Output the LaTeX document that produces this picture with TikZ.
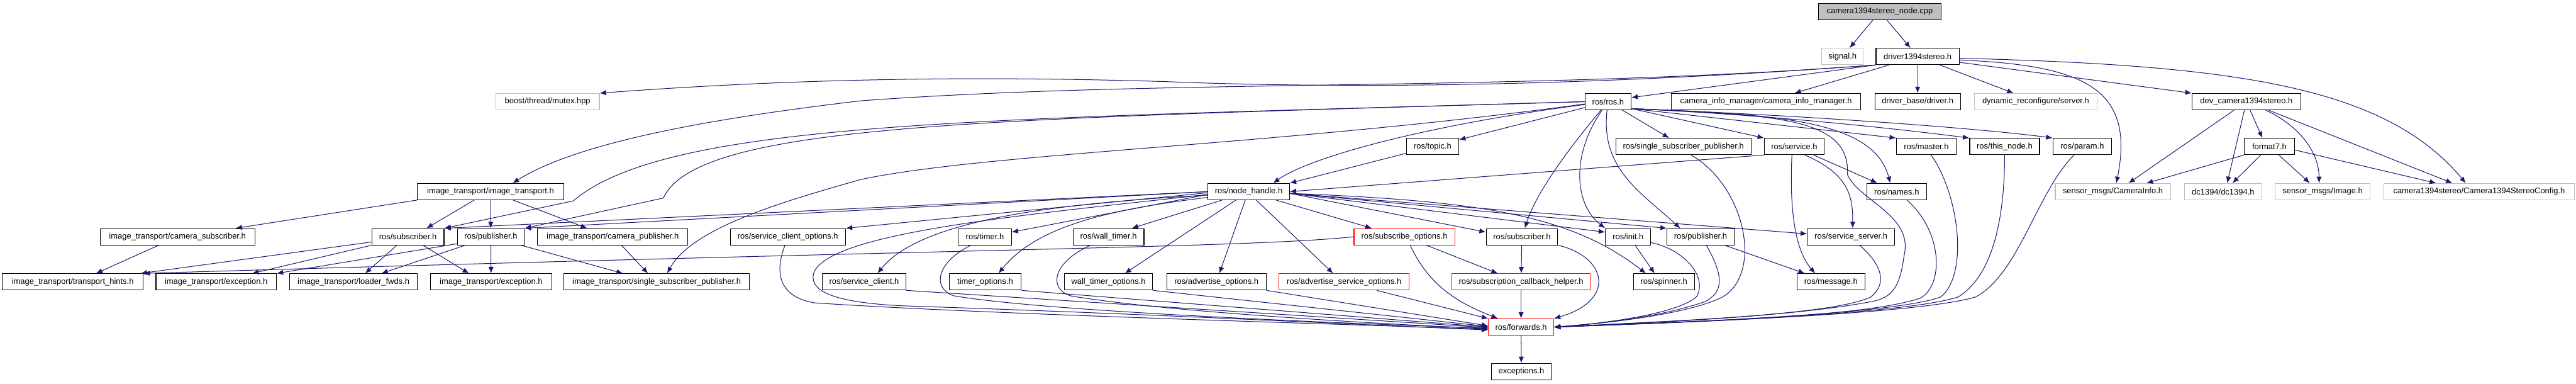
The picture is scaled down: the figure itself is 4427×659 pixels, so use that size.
\documentclass[tikz,border=0pt]{standalone}
\usepackage{fontspec}
\setmainfont{Liberation Sans}
\usepackage{tikz}
\usetikzlibrary{arrows.meta}
\usepackage{xcolor}
\definecolor{edgeblue}{RGB}{25,25,112}
\definecolor{grey75}{RGB}{191,191,191}

\tikzset{
  hdr/.style={draw=black, fill=white, line width=1.2pt, minimum height=28pt,
    inner sep=0pt, font=\fontsize{14}{16}\selectfont},
  ext/.style={hdr, draw=grey75},
  trunc/.style={hdr, draw=red},
  rootfile/.style={hdr, fill=grey75},
  dep/.style={draw=edgeblue, line width=1.1pt, -{Latex[length=11pt,width=9pt]}},
}

\begin{document}
\begin{tikzpicture}[x=1pt, y=-1pt]
    \fill[white] (0,0) rectangle (4427,659);

    % Top of the graph
    \node[rootfile, minimum width=211pt] (root) at (3230.5,20) {camera1394stereo\_node.cpp};
    \node[ext, minimum width=71pt] (signal) at (3166.5,97) {signal.h};
    \node[hdr, minimum width=143pt] (driver) at (3295.5,97) {driver1394stereo.h};

    % Headers of driver1394stereo.h
    \node[ext, minimum width=178pt] (boost) at (941,174.5) {boost/thread/mutex.hpp};
    \node[hdr, minimum width=79pt] (ros) at (2763.5,174.5) {ros/ros.h};
    \node[hdr, minimum width=326pt] (cim) at (3035,174.5) {camera\_info\_manager/camera\_info\_manager.h};
    \node[hdr, minimum width=147pt] (dbase) at (3295.5,174.5) {driver\_base/driver.h};
    \node[ext, minimum width=211pt] (dynrec) at (3498.5,174.5) {dynamic\_reconfigure/server.h};
    \node[hdr, minimum width=187pt] (devcam) at (3860.5,174.5) {dev\_camera1394stereo.h};

    \node[hdr, minimum width=90pt] (topic) at (2462,251.5) {ros/topic.h};
    \node[hdr, minimum width=232pt] (rssp) at (2893,251.5) {ros/single\_subscriber\_publisher.h};
    \node[hdr, minimum width=103pt] (service) at (3083.5,251.5) {ros/service.h};
    \node[hdr, minimum width=103pt] (master) at (3310.5,251.5) {ros/master.h};
    \node[hdr, minimum width=120pt] (thisnode) at (3445,251.5) {ros/this\_node.h};
    \node[hdr, minimum width=101pt] (param) at (3578.5,251.5) {ros/param.h};
    \node[hdr, minimum width=86pt] (format7) at (3900,251.5) {format7.h};

    \node[hdr, minimum width=252pt] (it) at (843,329) {image\_transport/image\_transport.h};
    \node[hdr, minimum width=140pt] (nh) at (2146,329) {ros/node\_handle.h};
    \node[hdr, minimum width=103pt] (names) at (3259.5,329) {ros/names.h};
    \node[ext, minimum width=198pt] (caminfo) at (3631,329) {sensor\_msgs/CameraInfo.h};
    \node[ext, minimum width=133pt] (dc) at (3820.5,329) {dc1394/dc1394.h};
    \node[ext, minimum width=163pt] (image) at (3991.5,329) {sensor\_msgs/Image.h};
    \node[ext, minimum width=327pt] (config) at (4260.5,329) {camera1394stereo/Camera1394StereoConfig.h};

    \node[hdr, minimum width=266pt] (camsub) at (305,406.5) {image\_transport/camera\_subscriber.h};
    \node[hdr, minimum width=124pt] (subL) at (701,406.5) {ros/subscriber.h};
    \node[hdr, minimum width=115pt] (pubL) at (843.5,406.5) {ros/publisher.h};
    \node[hdr, minimum width=258pt] (campub) at (1053,406.5) {image\_transport/camera\_publisher.h};
    \node[hdr, minimum width=198pt] (sco) at (1354,406.5) {ros/service\_client\_options.h};
    \node[hdr, minimum width=91pt] (timer) at (1692.5,406.5) {ros/timer.h};
    \node[hdr, minimum width=122pt] (wtimer) at (1905,406.5) {ros/wall\_timer.h};
    \node[trunc, minimum width=173pt] (subopt) at (2413.5,406.5) {ros/subscribe\_options.h};
    \node[hdr, minimum width=123pt] (subR) at (2615.5,406.5) {ros/subscriber.h};
    \node[hdr, minimum width=78pt] (init) at (2798,406.5) {ros/init.h};
    \node[hdr, minimum width=115pt] (pubR) at (2922.5,406.5) {ros/publisher.h};
    \node[hdr, minimum width=150pt] (sserver) at (3181,406.5) {ros/service\_server.h};

    \node[hdr, minimum width=242pt] (hints) at (125,484) {image\_transport/transport\_hints.h};
    \node[hdr, minimum width=207pt] (excA) at (371.5,484) {image\_transport/exception.h};
    \node[hdr, minimum width=219pt] (loader) at (607.5,484) {image\_transport/loader\_fwds.h};
    \node[hdr, minimum width=208pt] (excB) at (844,484) {image\_transport/exception.h};
    \node[hdr, minimum width=319pt] (itssp) at (1128.5,484) {image\_transport/single\_subscriber\_publisher.h};
    \node[hdr, minimum width=144pt] (sclient) at (1485,484) {ros/service\_client.h};
    \node[hdr, minimum width=124pt] (topts) at (1693,484) {timer\_options.h};
    \node[hdr, minimum width=152pt] (wtopts) at (1905,484) {wall\_timer\_options.h};
    \node[hdr, minimum width=171pt] (advopts) at (2090.5,484) {ros/advertise\_options.h};
    \node[trunc, minimum width=224pt] (advsrv) at (2310,484) {ros/advertise\_service\_options.h};
    \node[trunc, minimum width=238pt] (scbh) at (2614,484) {ros/subscription\_callback\_helper.h};
    \node[hdr, minimum width=105pt] (spinner) at (2859.5,484) {ros/spinner.h};
    \node[hdr, minimum width=117pt] (message) at (3146.5,484) {ros/message.h};

    \node[trunc, minimum width=112pt] (fwd) at (2614,561.5) {ros/forwards.h};
    \node[hdr, minimum width=103pt] (exc) at (2614.5,638) {exceptions.h};

    % Includes of the node and the driver
    \draw[dep] (root) -- (signal);
    \draw[dep] (root) -- (driver);
    \draw[dep] (driver.south west) .. controls (2700,150) and (2300,152) .. (2000,140)
        .. controls (1600,128) and (1300,140) .. (boost.north east);
    \draw[dep] (driver.south west) -- ([yshift=7pt]ros.east);
    \draw[dep] (driver.south west) .. controls (2600,158) and (2000,135) .. (1480,173)
        .. controls (1250,200) and (1000,240) .. ([xshift=38pt]it.north);
    \draw[dep] (driver) -- (cim);
    \draw[dep] (driver) -- (dbase);
    \draw[dep] (driver) -- (dynrec);
    \draw[dep] ([yshift=-10pt]driver.east) -- (devcam.north west);
    \draw[dep] ([yshift=-6pt]driver.east) .. controls (3580,112) and (3670,150) .. ([xshift=6pt]caminfo.north);
    \draw[dep] ([yshift=-3pt]driver.east) .. controls (3850,112) and (4100,150) .. ([xshift=-23pt]config.north);

    % Camera device
    \draw[dep] (devcam) -- ([xshift=27pt]caminfo.north);
    \draw[dep] (devcam) -- ([xshift=7pt]dc.north);
    \draw[dep] (devcam) -- ([xshift=-12pt]format7.north);
    \draw[dep] ([xshift=33pt]devcam.south) .. controls (3950,215) and (3985,260) .. ([xshift=-6pt]image.north);
    \draw[dep] ([xshift=38pt]devcam.south) -- ([xshift=-46pt]config.north);
    \draw[dep] (format7.south west) -- ([xshift=58pt]caminfo.north);
    \draw[dep] (format7) -- ([xshift=16pt]dc.north);
    \draw[dep] (format7) -- ([xshift=-22pt]image.north);
    \draw[dep] ([yshift=-6pt]format7.east) -- ([xshift=-74pt]config.north);

    % image_transport
    \draw[dep] (it.south west) -- ([xshift=100pt]camsub.north);
    \draw[dep] ([xshift=-28pt]it.south) -- ([xshift=32pt]subL.north);
    \draw[dep] (it) -- (pubL);
    \draw[dep] ([xshift=39pt]it.south) -- ([xshift=-44pt]campub.north);
    \draw[dep] (camsub) -- ([xshift=40pt]hints.north);
    \draw[dep] ([yshift=-9pt]subL.west) -- ([xshift=-5pt]hints.north east);
    \draw[dep] (subL.south west) -- ([xshift=62pt]excA.north);
    \draw[dep] ([xshift=-19pt]subL.south) -- ([xshift=20pt]loader.north);
    \draw[dep] ([xshift=26pt]subL.south) -- ([xshift=-38pt]excB.north);
    \draw[dep] ([yshift=-12pt]pubL.west) -- (excA.north east);
    \draw[dep] ([xshift=-44pt]pubL.south) -- ([xshift=48pt]loader.north);
    \draw[dep] (pubL) -- (excB);
    \draw[dep] ([xshift=52pt]pubL.south) -- ([xshift=-58pt]itssp.north);
    \draw[dep] ([xshift=15pt]campub.south) -- ([xshift=-15pt]itssp.north);

    % ros/ros.h
    \draw[dep] (ros) -- (topic);
    \draw[dep] ([yshift=-5pt]ros.west) .. controls (2450,215) and (2250,270) .. ([xshift=42pt]nh.north);
    \draw[dep] (ros) -- (rssp);
    \draw[dep] ([yshift=-12pt]ros.east) -- (service.north west);
    \draw[dep] ([yshift=-12pt]ros.east) -- (master.north west);
    \draw[dep] ([yshift=-12pt]ros.east) .. controls (3050,198) and (3250,220) .. (thisnode.north west);
    \draw[dep] ([yshift=-12pt]ros.east) .. controls (3100,198) and (3400,220) .. (param.north west);
    \draw[dep] ([yshift=-12pt]ros.east) .. controls (3050,196) and (3220,205) .. ([xshift=-11pt]names.north);
    \draw[dep] (ros) .. controls (2700,250) and (2640,330) .. ([xshift=5pt]subR.north);
    \draw[dep] (ros) .. controls (2700,265) and (2705,350) .. (init.north west);
    \draw[dep] (ros) .. controls (2750,290) and (2820,330) .. ([xshift=-35pt]pubR.north);
    \draw[dep] (ros.west) .. controls (1700,205) and (1150,205) .. (985,345) -- (subL.north east);
    \draw[dep] (ros.west) .. controls (1700,205) and (1200,210) .. (1140,340) -- (pubL.north east);
    \draw[dep] ([yshift=-4pt]ros.west) .. controls (2200,250) and (1700,262) .. (1480,308)
        .. controls (1350,345) and (1190,390) .. ([xshift=18pt]itssp.north);
    \draw[dep] ([yshift=-12pt]ros.east) .. controls (3050,198) and (3180,200) .. (3175,300)
        .. controls (3195,345) and (3290,370) .. (3272,440)
        .. controls (3265,495) and (3250,512) .. (3215,518)
        .. controls (3100,540) and (2900,552) .. (fwd.east);

    % ros/service.h and ros/topic.h
    \draw[dep] (service.south west) -- (nh.east);
    \draw[dep] (service) -- (names);
    \draw[dep] ([xshift=18pt]service.south) .. controls (3180,300) and (3184,340) .. ([xshift=3pt]sserver.north);
    \draw[dep] ([xshift=-4pt]service.south) .. controls (3075,360) and (3085,430) .. ([xshift=-27pt]message.north);
    \draw[dep] (topic) -- (nh.north east);
    \draw[dep] (pubR) -- ([xshift=-45pt]message.north);

    % ros/node_handle.h
    \draw[dep] (nh.west) -- (subL.north east);
    \draw[dep] (nh.west) -- (pubL.north east);
    \draw[dep] ([yshift=-2pt]nh.west) -- (sco.north east);
    \draw[dep] ([yshift=-6pt]nh.west) .. controls (1800,350) and (1580,380) .. ([xshift=23pt]sclient.north);
    \draw[dep] ([yshift=-5pt]nh.west) -- ([yshift=8pt]timer.east);
    \draw[dep] ([yshift=-10pt]nh.west) .. controls (1900,360) and (1780,390) .. ([xshift=23pt]topts.north);
    \draw[dep] ([xshift=-46pt]nh.south) -- ([xshift=40pt]wtimer.north);
    \draw[dep] ([xshift=-22pt]nh.south) -- ([xshift=28pt]wtopts.north);
    \draw[dep] ([xshift=-6pt]nh.south) -- ([xshift=5pt]advopts.north);
    \draw[dep] ([xshift=13pt]nh.south) -- ([xshift=-19pt]advsrv.north);
    \draw[dep] ([xshift=47pt]nh.south) -- ([xshift=-56pt]subopt.north);
    \draw[dep] ([yshift=-3pt]nh.east) -- ([yshift=8pt]subR.west);
    \draw[dep] ([yshift=-3pt]nh.east) -- ([yshift=8pt]init.west);
    \draw[dep] ([yshift=-3pt]nh.east) -- (pubR.north west);
    \draw[dep] ([yshift=-3pt]nh.east) .. controls (2550,345) and (2700,370) .. ([xshift=-31pt]spinner.north);
    \draw[dep] ([yshift=-3pt]nh.east) -- ([yshift=5pt]sserver.west);
    \draw[dep] ([yshift=-5pt]nh.west) .. controls (1750,370) and (1420,400) .. (1398,470)
        .. controls (1390,505) and (1450,520) .. (1550,525)
        .. controls (2000,540) and (2300,556) .. ([yshift=-5pt]fwd.west);

    % Second level headers
    \draw[dep] (subopt.west) .. controls (2150,425) and (1700,426) .. (hints.north east);
    \draw[dep] ([xshift=38pt]subopt.south) -- ([xshift=-40pt]scbh.north);
    \draw[dep] (subR) -- (scbh);
    \draw[dep] ([xshift=12pt]init.south) -- ([xshift=-16pt]spinner.north);

    % Everything that ends in ros/forwards.h
    \draw[dep] ([xshift=-5pt]sco.south) .. controls (1330,470) and (1340,510) .. (1400,520)
        .. controls (1700,540) and (2300,556) .. ([yshift=-4pt]fwd.west);
    \draw[dep] (sclient.south east) -- ([yshift=-1pt]fwd.west);
    \draw[dep] ([xshift=-24pt]timer.south) .. controls (1610,450) and (1600,495) .. (1640,508)
        .. controls (1800,535) and (2300,555) .. ([yshift=-2pt]fwd.west);
    \draw[dep] (topts.south east) -- (fwd.west);
    \draw[dep] ([xshift=-31pt]wtimer.south) .. controls (1810,450) and (1800,495) .. (1840,508)
        .. controls (2000,535) and (2350,555) .. ([yshift=-3pt]fwd.west);
    \draw[dep] (wtopts.south east) -- ([yshift=1pt]fwd.west);
    \draw[dep] (advopts.south east) -- ([yshift=2pt]fwd.west);
    \draw[dep] ([xshift=56pt]advsrv.south) -- (fwd.north west);
    \draw[dep] ([xshift=10pt]subopt.south) .. controls (2460,500) and (2520,525) .. ([xshift=-40pt]fwd.north);
    \draw[dep] (scbh) -- (fwd);
    \draw[dep] (subR.south east) .. controls (2760,440) and (2780,515) .. (fwd.north east);
    \draw[dep] ([yshift=-10pt]init.east) .. controls (2900,430) and (2935,480) .. (2915,510)
        .. controls (2880,540) and (2750,556) .. (fwd.east);
    \draw[dep] ([xshift=10pt]pubR.south) .. controls (2960,470) and (2965,500) .. (2930,518)
        .. controls (2850,545) and (2750,556) .. (fwd.east);
    \draw[dep] ([xshift=13pt]rssp.south) .. controls (3000,320) and (3030,470) .. (2960,510)
        .. controls (2900,540) and (2760,555) .. (fwd.east);
    \draw[dep] ([xshift=15pt]sserver.south) .. controls (3240,460) and (3240,490) .. (3215,510)
        .. controls (3150,540) and (2900,550) .. (fwd.east);
    \draw[dep] ([xshift=18pt]names.south) .. controls (3340,400) and (3340,490) .. (3300,512)
        .. controls (3200,545) and (2900,553) .. (fwd.east);
    \draw[dep] ([xshift=8pt]master.south) .. controls (3365,330) and (3385,470) .. (3335,510)
        .. controls (3250,540) and (2900,553) .. (fwd.east);
    \draw[dep] (thisnode.south) .. controls (3445,360) and (3430,470) .. (3365,510)
        .. controls (3270,540) and (2900,553) .. (fwd.east);
    \draw[dep] ([xshift=-14pt]param.south) .. controls (3500,330) and (3470,470) .. (3395,510)
        .. controls (3290,540) and (2900,553) .. (fwd.east);
    \draw[dep] (fwd) -- (exc);
\end{tikzpicture}
\end{document}
